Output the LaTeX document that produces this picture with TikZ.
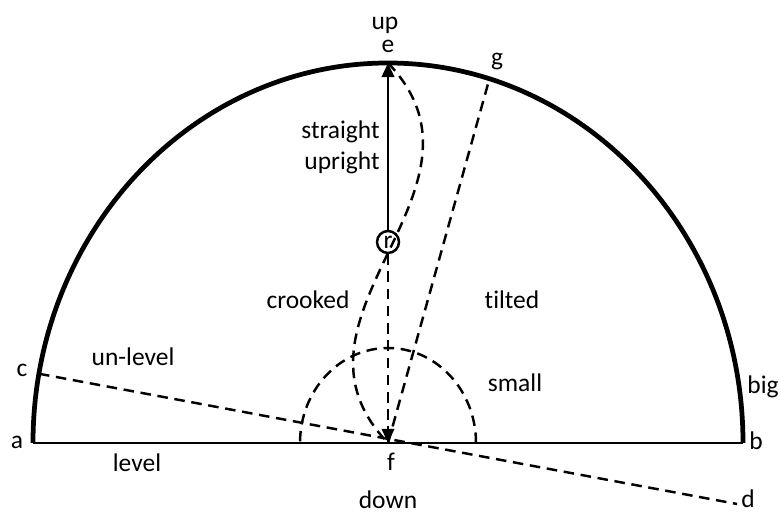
\documentclass[tikz,border=0pt]{standalone}
\usepackage{fontspec}
\setmainfont{Carlito}[Ligatures=NoCommon]
\usetikzlibrary{arrows.meta}
\begin{document}
\begin{tikzpicture}[x=0.02cm,y=0.02cm,
  font=\fontsize{14.5}{16}\selectfont,
  lbl/.style={inner sep=0pt},
  dsh/.style={line width=1.4pt, dash pattern=on 6pt off 3.8pt},
  tip/.style={-{Triangle[length=8pt,width=7pt]}}]
\useasboundingbox (0,0) rectangle (780,513);
\coordinate (f) at (388,70);
\coordinate (a) at (33,70);
\coordinate (b) at (743,70);
\coordinate (e) at (388,450);
\coordinate (g) at ([shift={(73.4:355 and 380)}]f);
\coordinate (c) at ([shift={(169.5:355 and 380)}]f);
\coordinate (d) at (737,9);
\coordinate (s) at ([shift={(88,0)}]f);
\node[circle, draw, line width=1.4pt, minimum size=0.44cm, inner sep=0pt] (r) at (388,271) {r};
% big semicircle and base
\draw[line width=2.7pt] (b) arc[start angle=0, end angle=180, x radius=355, y radius=380];
\draw[line width=1.7pt] (a) -- (b);
% small semicircle
\draw[dsh] (s) arc[start angle=0, end angle=180, x radius=88, y radius=95];
% dashed lines
\draw[dsh] (f) -- (g);
\draw[dsh] (c) -- (d);
\draw[dsh] (e) .. controls (509,324) and (267,196) .. (f);
\draw[dsh, tip] (r) -- (f);
\draw[line width=1.6pt, tip] (r) -- (e);
% labels
\node[lbl] (lup) at (385,488) {up};
\node[lbl] (le) at (388,467) {e};
\node[lbl] (lg) at (497,451) {g};
\node[lbl, anchor=east] (lstraight) at (380,381) {straight};
\node[lbl, anchor=east] (lupright) at (380,350) {upright};
\node[lbl] (lcrooked) at (308,213) {crooked};
\node[lbl] (ltilted) at (512,213) {tilted};
\node[lbl] (lunlevel) at (133,156) {un-level};
\node[lbl] (lsmall) at (515,130) {small};
\node[lbl] (lbig) at (763,126) {big};
\node[lbl] (la) at (17,71) {a};
\node[lbl] (lb) at (756,72) {b};
\node[lbl] (lc) at (22,143) {c};
\node[lbl] (ld) at (748,14) {d};
\node[lbl] (lf) at (391,51) {f};
\node[lbl] (ldown) at (388,13) {down};
\node[lbl] (llevel) at (137,50) {level};
\end{tikzpicture}
\end{document}
